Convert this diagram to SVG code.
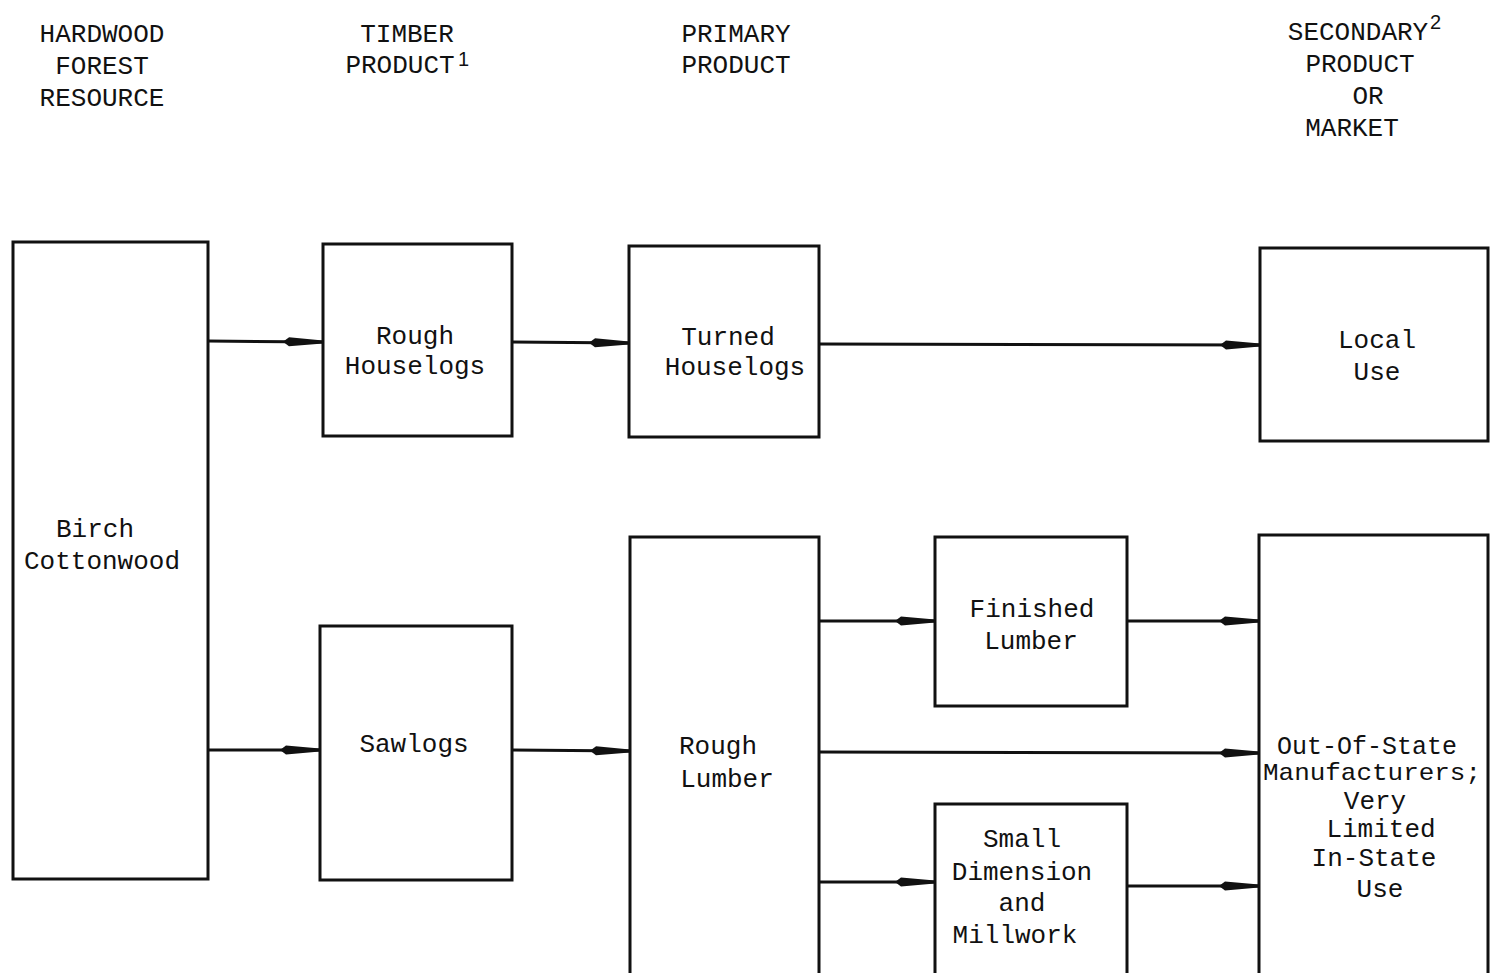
<svg xmlns="http://www.w3.org/2000/svg" width="1490" height="973" viewBox="0 0 1490 973">
<style>
.t{font-family:"Liberation Mono","Courier New",monospace;font-size:26px;fill:#111;text-anchor:middle}
.h{font-family:"Liberation Mono","Courier New",monospace;font-size:26px;fill:#111;text-anchor:middle}
.s{font-family:"Liberation Sans",Arial,sans-serif;font-size:20px;fill:#111}
.box{fill:#fff;stroke:#111;stroke-width:3}
.c{stroke:#111;stroke-width:3;fill:none}
</style>
<defs>
<marker id="a" viewBox="0 0 40 12" refX="40" refY="6" markerWidth="40" markerHeight="12" markerUnits="userSpaceOnUse" orient="auto">
<path d="M0,6 L6,1.5 L40,4.5 L40,7.5 L6,10.5 Z" fill="#111"/>
</marker>
</defs>
<g id="headers">
<text class="h" x="102" y="42">HARDWOOD</text>
<text class="h" x="102" y="74">FOREST</text>
<text class="h" x="102" y="106">RESOURCE</text>
<text class="h" x="407" y="42">TIMBER</text>
<text class="h" x="400" y="73">PRODUCT</text>
<text class="s" x="458" y="66">1</text>
<text class="h" x="736" y="42">PRIMARY</text>
<text class="h" x="736" y="73">PRODUCT</text>
<text class="h" x="1358" y="40">SECONDARY</text>
<text class="s" x="1430" y="29">2</text>
<text class="h" x="1360" y="72">PRODUCT</text>
<text class="h" x="1368" y="104">OR</text>
<text class="h" x="1352" y="136">MARKET</text>
</g>
<g id="connectors">
<line class="c" x1="208" y1="341" x2="323" y2="342" marker-end="url(#a)"/>
<line class="c" x1="512" y1="342" x2="629" y2="343" marker-end="url(#a)"/>
<line class="c" x1="819" y1="344" x2="1260" y2="345" marker-end="url(#a)"/>
<line class="c" x1="208" y1="750" x2="320" y2="750" marker-end="url(#a)"/>
<line class="c" x1="512" y1="750" x2="630" y2="751" marker-end="url(#a)"/>
<line class="c" x1="819" y1="621" x2="935" y2="621" marker-end="url(#a)"/>
<line class="c" x1="1127" y1="621" x2="1259" y2="621" marker-end="url(#a)"/>
<line class="c" x1="819" y1="752" x2="1259" y2="753" marker-end="url(#a)"/>
<line class="c" x1="819" y1="882" x2="935" y2="882" marker-end="url(#a)"/>
<line class="c" x1="1127" y1="886" x2="1259" y2="886" marker-end="url(#a)"/>
</g>
<g id="birch">
<rect class="box" x="13" y="242" width="195" height="637"/>
<text class="t" x="95" y="537">Birch</text>
<text class="t" x="102" y="569">Cottonwood</text>
</g>
<g id="rough-houselogs">
<rect class="box" x="323" y="244" width="189" height="192"/>
<text class="t" x="415" y="344">Rough</text>
<text class="t" x="415" y="374">Houselogs</text>
</g>
<g id="sawlogs">
<rect class="box" x="320" y="626" width="192" height="254"/>
<text class="t" x="414" y="752">Sawlogs</text>
</g>
<g id="turned-houselogs">
<rect class="box" x="629" y="246" width="190" height="191"/>
<text class="t" x="728" y="345">Turned</text>
<text class="t" x="735" y="375">Houselogs</text>
</g>
<g id="rough-lumber">
<rect class="box" x="630" y="537" width="189" height="440"/>
<text class="t" x="718" y="754">Rough</text>
<text class="t" x="727" y="787">Lumber</text>
</g>
<g id="finished-lumber">
<rect class="box" x="935" y="537" width="192" height="169"/>
<text class="t" x="1032" y="617">Finished</text>
<text class="t" x="1031" y="649">Lumber</text>
</g>
<g id="small-dimension">
<rect class="box" x="935" y="804" width="192" height="173"/>
<text class="t" x="1022" y="847">Small</text>
<text class="t" x="1022" y="880">Dimension</text>
<text class="t" x="1022" y="911">and</text>
<text class="t" x="1015" y="943">Millwork</text>
</g>
<g id="local-use">
<rect class="box" x="1260" y="248" width="228" height="193"/>
<text class="t" x="1377" y="348">Local</text>
<text class="t" x="1377" y="380">Use</text>
</g>
<g id="out-of-state">
<rect class="box" x="1259" y="535" width="229" height="442"/>
<text class="t" x="1367" y="754" style="font-size:25px">Out-Of-State</text>
<text class="t" x="1372" y="780" style="font-size:24px" textLength="218" lengthAdjust="spacingAndGlyphs">Manufacturers;</text>
<text class="t" x="1375" y="809">Very</text>
<text class="t" x="1381" y="837">Limited</text>
<text class="t" x="1374" y="866">In-State</text>
<text class="t" x="1380" y="897">Use</text>
</g>
</svg>
